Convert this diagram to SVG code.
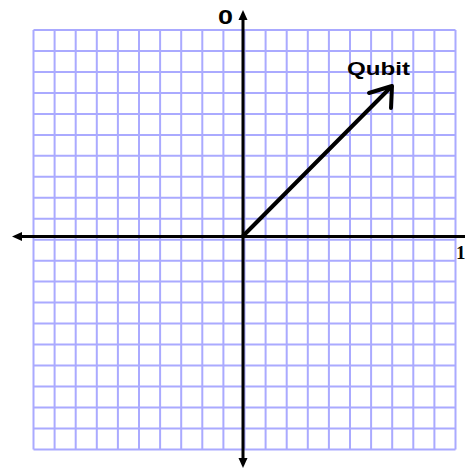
<svg xmlns="http://www.w3.org/2000/svg" width="465" height="469" viewBox="0 0 465 469">
<defs>
<style>
.grid{stroke:#aaaaff;stroke-width:2;fill:none}
.axis{stroke:#000;stroke-width:3;fill:none}
.vec{stroke:#000;stroke-width:4;fill:none;stroke-linecap:round;stroke-linejoin:round}
.lbl{font-family:"Liberation Sans",Arial,sans-serif;font-weight:bold;fill:#000}
</style>
</defs>
<rect width="465" height="469" fill="#fff"/>
<g id="grid" class="grid">
<path d="M33.5 30V449.4M54.6 30V449.4M75.7 30V449.4M96.8 30V449.4M117.9 30V449.4M139 30V449.4M160.1 30V449.4M181.2 30V449.4M202.3 30V449.4M223.4 30V449.4M244.5 30V449.4M265.6 30V449.4M286.7 30V449.4M307.8 30V449.4M328.9 30V449.4M350 30V449.4M371.1 30V449.4M392.2 30V449.4M413.3 30V449.4M434.4 30V449.4M455.5 30V449.4"/>
<path d="M33.5 30H455.5M33.5 51H455.5M33.5 71.9H455.5M33.5 92.9H455.5M33.5 113.9H455.5M33.5 134.9H455.5M33.5 155.8H455.5M33.5 176.8H455.5M33.5 197.8H455.5M33.5 218.7H455.5M33.5 239.7H455.5M33.5 260.7H455.5M33.5 281.6H455.5M33.5 302.6H455.5M33.5 323.6H455.5M33.5 344.6H455.5M33.5 365.5H455.5M33.5 386.5H455.5M33.5 407.5H455.5M33.5 428.4H455.5M33.5 449.4H455.5"/>
</g>
<g id="connectors">
<path class="axis" d="M243 18V460"/>
<path d="M243 10L238.5 20H247.5Z"/>
<path d="M243 468L238.5 458H247.5Z"/>
<path class="axis" d="M20 236.5H465"/>
<path d="M12 236.5L22 232V241Z"/>
<path class="vec" d="M243 236L391 87"/>
<path class="vec" d="M369 93L392 86L391 108"/>
</g>
<g id="label-0"><text class="lbl" x="218" y="24" font-size="21" textLength="15" lengthAdjust="spacingAndGlyphs">0</text></g>
<g id="label-1"><text x="456" y="259" font-family="'Liberation Serif',serif" font-size="19" font-weight="bold">1</text></g>
<g id="label-qubit"><text class="lbl" x="347" y="75" font-size="19" textLength="63" lengthAdjust="spacingAndGlyphs">Qubit</text></g>
</svg>
